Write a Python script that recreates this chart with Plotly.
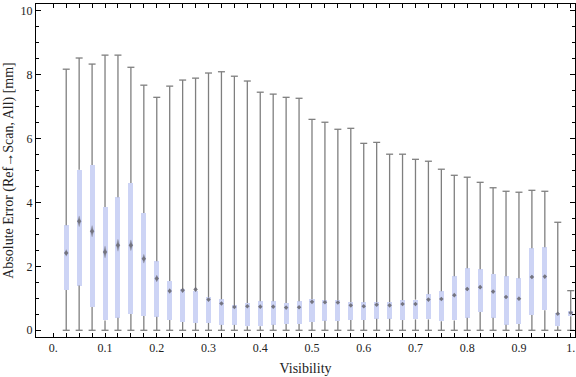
import plotly.graph_objects as go

# ---- data ----
visibility = [0.025, 0.05, 0.075, 0.1, 0.125, 0.15, 0.175, 0.2, 0.225, 0.25,
              0.275, 0.3, 0.325, 0.35, 0.375, 0.4, 0.425, 0.45, 0.475, 0.5,
              0.525, 0.55, 0.575, 0.6, 0.625, 0.65, 0.675, 0.7, 0.725, 0.75,
              0.775, 0.8, 0.825, 0.85, 0.875, 0.9, 0.925, 0.95, 0.975, 1.0]
err_min = [0.0] * 40
err_max = [8.17, 8.52, 8.33, 8.61, 8.61, 8.23, 7.67, 7.29, 7.64, 7.83,
           7.89, 8.05, 8.09, 7.95, 7.80, 7.45, 7.39, 7.29, 7.26, 6.60,
           6.51, 6.29, 6.32, 5.85, 5.88, 5.51, 5.51, 5.35, 5.29, 5.04,
           4.85, 4.79, 4.63, 4.46, 4.35, 4.32, 4.38, 4.35, 3.38, 1.24]
err_q3 = [3.29, 5.02, 5.17, 3.86, 4.16, 4.61, 3.67, 2.16, 1.54, 1.29,
          1.22, 1.03, 0.97, 0.78, 0.85, 0.91, 0.91, 0.85, 0.91, 0.97,
          0.94, 0.94, 0.88, 0.88, 0.88, 0.88, 0.94, 0.96, 1.13, 1.22,
          1.69, 1.94, 1.91, 1.76, 1.69, 1.63, 2.57, 2.60, 0.53, 0.60]
err_q1 = [1.26, 1.40, 0.73, 0.31, 0.39, 0.51, 0.45, 0.42, 0.32, 0.26,
          0.23, 0.23, 0.17, 0.17, 0.13, 0.13, 0.17, 0.20, 0.20, 0.26,
          0.30, 0.29, 0.32, 0.32, 0.36, 0.36, 0.32, 0.34, 0.34, 0.28,
          0.31, 0.39, 0.57, 0.39, 0.17, 0.20, 0.48, 0.63, 0.13, 0.44]
err_mean = [2.42, 3.41, 3.10, 2.45, 2.66, 2.66, 2.24, 1.62, 1.23, 1.25,
            1.28, 0.96, 0.84, 0.73, 0.75, 0.74, 0.74, 0.71, 0.72, 0.89,
            0.88, 0.87, 0.78, 0.75, 0.80, 0.78, 0.82, 0.82, 0.96, 0.98,
            1.10, 1.29, 1.35, 1.21, 1.04, 0.99, 1.67, 1.68, 0.52, 0.55]
mean_ci = [0.105, 0.17, 0.18, 0.19, 0.19, 0.17, 0.14, 0.11, 0.08, 0.08,
           0.07, 0.05, 0.05, 0.05, 0.05, 0.05, 0.05, 0.05, 0.05, 0.05,
           0.05, 0.05, 0.05, 0.05, 0.05, 0.05, 0.05, 0.05, 0.05, 0.05,
           0.05, 0.06, 0.06, 0.05, 0.05, 0.05, 0.06, 0.06, 0.04, 0.04]

x_tick_vals = [i * 0.025 for i in range(41)]
x_tick_text = ["0.", "0.1", "0.2", "0.3", "0.4", "0.5", "0.6", "0.7", "0.8", "0.9", "1."]
y_tick_vals = [0, 2, 4, 6, 8, 10]
y_tick_text = ["0", "2", "4", "6", "8", "10"]

BOX_W = 0.0097
DIA_HW = 0.0031
WHISK = "#7f7f7f"
BOXC = "#cdd4f5"
FONT = "Liberation Serif"

fig = go.Figure()

# whiskers (drawn outside the box only, since bars sit beneath scatter layers)
wx, wy = [], []
for v, lo, q1, q3, hi in zip(visibility, err_min, err_q1, err_q3, err_max):
    wx += [v, v, None, v, v, None]
    wy += [lo, q1, None, q3, hi, None]
fig.add_trace(go.Scatter(x=wx, y=wy, mode="lines", line=dict(color=WHISK, width=1.3),
                         hoverinfo="skip", showlegend=False))
# caps
fig.add_trace(go.Scatter(x=visibility + visibility, y=err_min + err_max, mode="markers",
                         marker=dict(symbol="line-ew", size=5,
                                     line=dict(color=WHISK, width=1.3)),
                         hoverinfo="skip", showlegend=False))
# boxes
fig.add_trace(go.Bar(x=visibility, y=[h - l for h, l in zip(err_q3, err_q1)], base=err_q1,
                     width=BOX_W, marker=dict(color=BOXC, line=dict(width=0)),
                     showlegend=False))
# mean diamonds
dx, dy = [], []
for v, m, c in zip(visibility, err_mean, mean_ci):
    dx += [v - DIA_HW, v, v + DIA_HW, v, v - DIA_HW, None]
    dy += [m, m + c, m, m - c, m, None]
fig.add_trace(go.Scatter(x=dx, y=dy, mode="lines", fill="toself",
                         fillcolor="rgba(110,110,120,0.7)",
                         line=dict(color="rgba(110,110,120,0.35)", width=0.5),
                         hoverinfo="skip", showlegend=False))
fig.add_trace(go.Scatter(x=visibility, y=err_mean, mode="markers",
                         marker=dict(symbol="diamond", size=3.5, color="rgba(110,110,120,0.8)"),
                         hoverinfo="skip", showlegend=False))

fig.update_layout(
    width=576, height=377,
    margin=dict(l=36, r=1, t=4, b=40),
    plot_bgcolor="white", paper_bgcolor="white",
    bargap=0,
    font=dict(family=FONT, size=12, color="#222"),
    xaxis=dict(range=[-0.0334, 1.0083], tickmode="array",
               tickvals=x_tick_vals,
               ticktext=[x_tick_text[i // 4] if i % 4 == 0 else "" for i in range(41)],
               ticks="inside", ticklen=4, tickwidth=1, tickcolor="black",
               showline=True, linecolor="black", linewidth=1, mirror="ticks",
               showgrid=False, zeroline=False, automargin=False,
               title=dict(text="Visibility", standoff=8)),
    yaxis=dict(range=[-0.21, 10.21], tickmode="array",
               tickvals=y_tick_vals, ticktext=y_tick_text,
               ticks="inside", ticklen=5, tickwidth=1, tickcolor="black",
               minor=dict(tickvals=[i * 0.5 for i in range(21)], ticks="inside",
                          ticklen=3, tickcolor="black", tickwidth=1),
               showline=True, linecolor="black", linewidth=1, mirror="ticks",
               showgrid=False, zeroline=False, automargin=False,
               title=dict(text="Absolute Error (Ref\u2192Scan, All) [mm]", standoff=3)),
)

fig.write_html("out.html", config={"displayModeBar": False},
               post_script="document.body.style.margin='0';document.body.style.overflow='hidden';")
